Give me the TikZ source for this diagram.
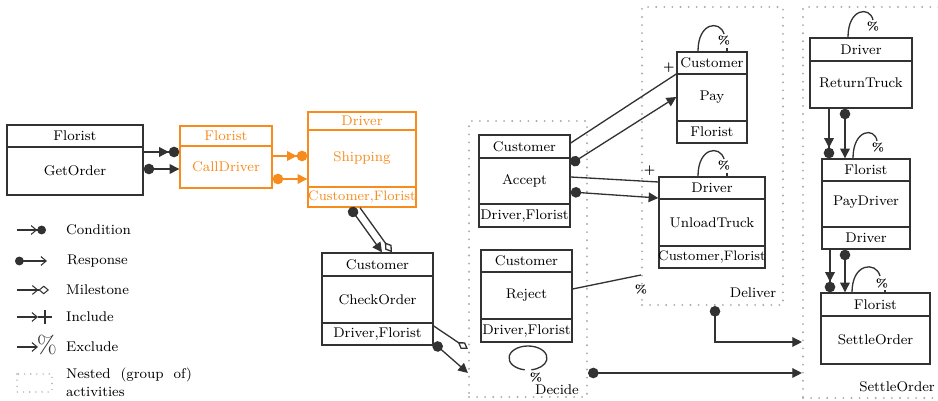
\documentclass[tikz,border=0pt]{standalone}
\usepackage{amsmath}
\usetikzlibrary{arrows.meta,fit}
\definecolor{O}{RGB}{247,140,30}
\definecolor{K}{RGB}{50,50,50}
\definecolor{D}{RGB}{170,170,170}

\tikzset{
  act/.style={draw=K, line width=0.8pt, inner sep=0pt},
  pend/.style={draw=O, line width=0.8pt, inner sep=0pt},
  grp/.style={draw=D, line width=1.2pt, dash pattern=on 0pt off 4.6pt, line cap=round, inner sep=0pt},
  rel/.style={draw=K, line width=0.75pt},
  cond/.style={rel, -{Triangle[length=5.5pt,width=5.5pt]Circle[length=6pt]}},
  resp/.style={rel, {Circle[length=6pt]}-{Triangle[length=5.5pt,width=5.5pt]}},
  mile/.style={rel, -{Diamond[open,length=7pt,width=4.5pt]}},
  sym/.style={font=\fontsize{6.5}{7}\selectfont\bfseries, inner sep=0pt},
  leg/.style={draw=K, line width=0.6pt}
}

\begin{document}
\begin{tikzpicture}[x=0.02cm, y=-0.02cm, font=\fontsize{8}{9.6}\selectfont]
   \useasboundingbox (0,0) rectangle (938,401);
   % groups
   \node[grp, fit={(469,121) (587,397)}] (decide) {};
   \node[grp, fit={(642,7) (783,305)}] (deliver) {};
   \node[grp, fit={(803,7) (950,398)}] (settle) {};
   \node (decidelbl) at (557,390) {Decide};
   \node (deliverlbl) at (753,293) {Deliver};
   \node (settlelbl) at (897,387) {SettleOrder};

   % activities
   \node[act, fit={(7,125) (143,195)}] (getorder) {};
   \draw[act] (7,147) -- (143,147);
   \node (getorderrole) at (75,136) {Florist};
   \node (getordername) at (75,171) {GetOrder};

   \node[pend, fit={(180,126) (272,188)}] (calldriver) {};
   \draw[pend] (180,146) -- (272,146);
   \node[text=O] (calldriverrole) at (226,136) {Florist};
   \node[text=O] (calldrivername) at (226,167) {CallDriver};

   \node[pend, fit={(308,112) (416,207)}] (shipping) {};
   \draw[pend] (308,130) -- (416,130);
   \draw[pend] (308,187) -- (416,187);
   \node[text=O] (shippingrole) at (362,121) {Driver};
   \node[text=O] (shippingname) at (362,158) {Shipping};
   \node[text=O, font=\fontsize{7.8}{9}\selectfont] (shippingfoot) at (362,197) {Customer,Florist};

   \node[act, fit={(322,253) (433,345)}] (checkorder) {};
   \draw[act] (322,276) -- (433,276);
   \draw[act] (322,323) -- (433,323);
   \node (checkorderrole) at (377.5,264.5) {Customer};
   \node (checkordername) at (377.5,300) {CheckOrder};
   \node (checkorderfoot) at (377.5,334) {Driver,Florist};

   \node[act, fit={(479,135) (570,227)}] (accept) {};
   \draw[act] (479,158) -- (570,158);
   \draw[act] (479,204) -- (570,204);
   \node (acceptrole) at (524.5,146.5) {Customer};
   \node (acceptname) at (524.5,181) {Accept};
   \node (acceptfoot) at (524.5,215.5) {Driver,Florist};

   \node[act, fit={(481,250) (572,342)}] (reject) {};
   \draw[act] (481,272) -- (572,272);
   \draw[act] (481,319) -- (572,319);
   \node (rejectrole) at (526.5,261) {Customer};
   \node (rejectname) at (526.5,295.5) {Reject};
   \node (rejectfoot) at (526.5,330.5) {Driver,Florist};

   \node[act, fit={(677,52) (747,143)}] (pay) {};
   \draw[act] (677,74) -- (747,74);
   \draw[act] (677,121) -- (747,121);
   \node (payrole) at (712,63) {Customer};
   \node (payname) at (712,97.5) {Pay};
   \node (payfoot) at (712,132) {Florist};

   \node[act, fit={(659,177) (765,268)}] (unloadtruck) {};
   \draw[act] (659,199) -- (765,199);
   \draw[act] (659,246) -- (765,246);
   \node (unloadtruckrole) at (712,188) {Driver};
   \node (unloadtruckname) at (712,222.5) {UnloadTruck};
   \node[font=\fontsize{7.8}{9}\selectfont] (unloadtruckfoot) at (712,257) {Customer,Florist};

   \node[act, fit={(810,38) (912,108)}] (returntruck) {};
   \draw[act] (810,61) -- (912,61);
   \node (returntruckrole) at (861,49.5) {Driver};
   \node (returntruckname) at (861,83) {ReturnTruck};

   \node[act, fit={(822,159) (910,249)}] (paydriver) {};
   \draw[act] (822,181) -- (910,181);
   \draw[act] (822,227) -- (910,227);
   \node (paydriverrole) at (866,170) {Florist};
   \node (paydrivername) at (866,202) {PayDriver};
   \node (paydriverfoot) at (866,238) {Driver};

   \node[act, fit={(821,293) (930,364)}] (settleorder) {};
   \draw[act] (821,316) -- (930,316);
   \node (settleorderrole) at (875.5,304.5) {Florist};
   \node (settleordername) at (875.5,340) {SettleOrder};

   % relations
   \draw[cond] (getorder.east |- 0,152) -- (calldriver.west |- 0,152);
   \draw[resp] (getorder.east |- 0,169) -- (calldriver.west |- 0,169);
   \draw[cond, draw=O] (calldriver.east |- 0,156) -- (shipping.west |- 0,156);
   \draw[resp, draw=O] (calldriver.east |- 0,179) -- (shipping.west |- 0,179);
   \draw[resp] (shipping.south -| 350,0) -- (checkorder.north -| 382,0);
   \draw[mile] (shipping.south -| 360,0) -- (checkorder.north -| 392,0);
   \draw[mile] (checkorder.east |- 0,326) -- (decide.west |- 0,349);
   \draw[resp] (checkorder.east |- 0,343) -- (decide.west |- 0,373);
   \draw[rel] (accept.east |- 0,143) -- (pay.west |- 0,74) node[sym, pos=0.93, above=3pt] (payplus) {+};
   \draw[resp] (accept.east |- 0,164) -- (pay.west |- 0,97);
   \draw[rel] (accept.east |- 0,177) -- (unloadtruck.west |- 0,182) node[sym, pos=0.9, above=3pt] (unloadplus) {+};
   \draw[resp] (accept.east |- 0,192) -- (unloadtruck.west |- 0,198);
   \draw[rel] (reject.east |- 0,289) -- (deliver.west |- 0,275) node[sym, at end, below=5pt] (rejectexcl) {\%};
   \draw[cond] (returntruck.south -| 829,0) -- (paydriver.north -| 829,0);
   \draw[resp] (returntruck.south -| 845,0) -- (paydriver.north -| 845,0);
   \draw[cond] (paydriver.south -| 830,0) -- (settleorder.north -| 830,0);
   \draw[resp] (paydriver.south -| 845,0) -- (settleorder.north -| 845,0);
   \draw[resp] (deliver.south -| 715,0) |- (settle.west |- 0,342);
   \draw[resp] (decide.east |- 0,373) -- (settle.west |- 0,373);

   % self excludes
   \draw[rel] (528,358) ++(100:19 and 12) arc[start angle=100, end angle=440, x radius=19, y radius=12];
   \node[sym] (decideexcl) at (536,378) {\%};
   \draw[rel] (pay.north -| 698,0) .. controls (698,22) and (720,20) .. (724,34);
   \node[sym] (payexcl) at (724,41) {\%};
   \draw[rel] (727,48) -- (pay.north -| 727,0);
   \draw[rel] (unloadtruck.north -| 698,0) .. controls (698,147) and (720,145) .. (724,159);
   \node[sym] (unloadexcl) at (724,166) {\%};
   \draw[rel] (727,173) -- (unloadtruck.north -| 727,0);
   \draw[rel] (returntruck.north -| 848,0) .. controls (848,8) and (870,6) .. (873,20);
   \node[sym] (returnexcl) at (873,27) {\%};
   \draw[rel] (paydriver.north -| 853,0) .. controls (853,129) and (875,127) .. (877,141);
   \node[sym] (paydriverexcl) at (878,148) {\%};
   \draw[rel] (settleorder.north -| 852,0) .. controls (852,263) and (876,261) .. (880,276);
   \node[sym] (settleexcl) at (882,284) {\%};
   \draw[rel] (885,290) -- (settleorder.north -| 885,0);

   % legend
   \draw[leg, -{Straight Barb[length=3pt,width=5pt] Circle[length=5pt]}] (17,230) -- (46,230);
   \node[anchor=west] (lcond) at (60,230) {Condition};
   \draw[leg, {Circle[length=5pt]}-{Straight Barb[length=3pt,width=5pt]}] (15,261) -- (47,261);
   \node[anchor=west] (lresp) at (61,261) {Response};
   \draw[leg, -{Straight Barb[length=3pt,width=5pt] Diamond[open,length=6pt,width=5pt]}] (17,290) -- (49,290);
   \node[anchor=west] (lmile) at (60,290) {Milestone};
   \draw[leg, -{Straight Barb[length=3pt,width=5pt]}] (17,317) -- (38,317);
   \draw[leg] (38,317) -- (52,317);
   \draw[leg] (45,310) -- (45,324);
   \node[anchor=west] (lincl) at (60,317) {Include};
   \draw[leg, -{Straight Barb[length=3pt,width=5pt]}] (17,347) -- (38,347);
   \node[text=K, font=\fontsize{14}{14}\selectfont, inner sep=0pt] (lexclsym) at (47,345) {\%};
   \node[anchor=west] (lexcl) at (60,347) {Exclude};
   \draw[grp, line width=0.9pt, dash pattern=on 0pt off 3.5pt] (17,374) rectangle (52,392);
   \node[anchor=west] (lnest) at (60,375) {Nested\ \ (group\ \ of)};
   \node[anchor=west] (lnest2) at (60,392) {activities};
\end{tikzpicture}
\end{document}
